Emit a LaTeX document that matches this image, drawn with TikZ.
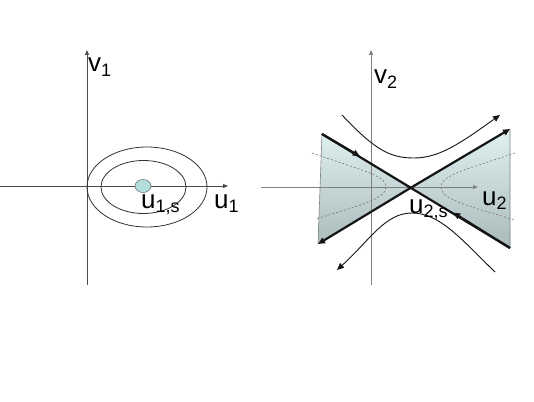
\documentclass[tikz,border=0pt]{standalone}
\usepackage{fontspec}
\setmainfont{Liberation Sans}
\usetikzlibrary{arrows.meta,calc,shapes.geometric}
\definecolor{axisgray}{HTML}{808080}
\definecolor{ink}{HTML}{141414}
\definecolor{dotfill}{HTML}{B4DEDE}
\definecolor{shtop}{HTML}{E0F1F1}
\definecolor{shbot}{HTML}{AABABA}
\newcommand{\lowidx}[1]{\raisebox{-4.5pt}{\fontsize{18}{18}\selectfont #1}}
\tikzset{
  axis/.style={draw=black!70,line width=0.8pt,-{Triangle[length=5pt,width=4pt]}},
  axisg/.style={draw=axisgray,line width=0.9pt,-{Triangle[length=5pt,width=4pt]}},
  orb/.style={draw=black!80,line width=0.8pt},
  flow/.style={draw=ink,line width=0.9pt},
  manif/.style={draw=ink,line width=2.2pt},
  dsh/.style={draw=black!55,dash pattern=on 2pt off 2pt,line width=0.6pt},
  lbl/.style={font=\fontsize{26}{26}\selectfont,inner sep=0pt,anchor=base west},
  tip/.style={-{Triangle[length=7pt,width=6pt]}},
}
\begin{document}
\begin{tikzpicture}[x=1pt,y=-1pt]
  \useasboundingbox (0,0) rectangle (534,401);
  \coordinate (x1l) at (0,186); \coordinate (x1r) at (228,186);
  \coordinate (y1b) at (87,285); \coordinate (y1t) at (87,50);
  \draw[axis] (x1l) -- (x1r);
  \draw[axis] (y1b) -- (y1t);
  \draw[orb] (147,187) ellipse [x radius=60pt,y radius=40pt];
  \draw[orb] (143.5,187) ellipse [x radius=42.5pt,y radius=26.5pt];
  \node[ellipse,draw=black!70,fill=dotfill,minimum width=16pt,minimum height=13pt,inner sep=0pt] (s1) at (143,186) {};
  \node[lbl] (v1) at (88,72) {v\lowidx{1}};
  \node[lbl] (u1) at (214,208) {u\lowidx{1}};
  \node[lbl] (u1s) at (141,208) {u\lowidx{1,s}};

  \coordinate (s2) at (412,187);
  \coordinate (tl) at (322,134); \coordinate (bl) at (318,244);
  \coordinate (tr) at (510,129); \coordinate (br) at (510,248);
  \shade[top color=shtop,bottom color=shbot] (tl) -- (s2) -- (bl) -- cycle (s2) -- (tr) -- (br) -- cycle;
  \draw[draw=black!50,line width=0.6pt] (tl) -- (bl) (tr) -- (br);
  \coordinate (x2l) at (261,187); \coordinate (x2r) at (478,187);
  \coordinate (y2b) at (371,285); \coordinate (y2t) at (371,50);
  \draw[axisg] (x2l) -- (x2r);
  \draw[axisg] (y2b) -- (y2t);
  \draw[dsh] (312,153) .. controls (360,170) and (386,175) .. (386,187) .. controls (386,199) and (360,205) .. (316,219);
  \draw[dsh] (515,153) .. controls (465,170) and (441,175) .. (441,187) .. controls (441,199) and (465,205) .. (515,220);
  \draw[flow,tip] (342,115) .. controls (375,150) and (390,158) .. (414,158) .. controls (440,158) and (462,142) .. (500,115);
  \draw[flow,tip] (495,272) .. controls (462,240) and (440,213) .. (412,213) .. controls (385,213) and (370,240) .. (337,270);
  \draw[manif] (tl) -- (br);
  \draw[manif,tip] (tl) -- ($(tl)!0.42!(s2)$);
  \draw[manif,tip] (br) -- ($(br)!0.58!(s2)$);
  \draw[manif,tip] (s2) -- (tr);
  \draw[manif,tip] (s2) -- (bl);
  \node[lbl] (v2) at (374,84) {v\lowidx{2}};
  \node[lbl] (u2) at (482,205) {u\lowidx{2}};
  \node[lbl] (u2s) at (409,213) {u\lowidx{2,s}};
\end{tikzpicture}
\end{document}
